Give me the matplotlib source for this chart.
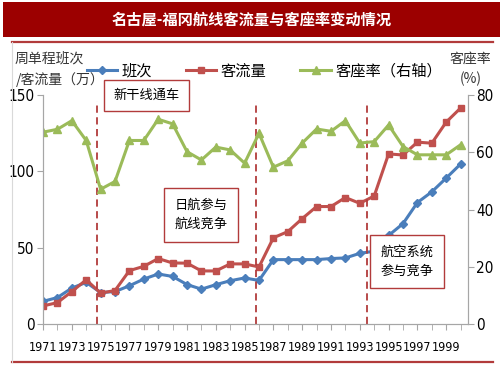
import matplotlib
matplotlib.use("Agg")
import matplotlib.pyplot as plt
from matplotlib import font_manager
from matplotlib.patches import Rectangle
from matplotlib.lines import Line2D

plt.rcParams['font.family'] = ['Noto Sans CJK SC', 'DejaVu Sans']

# data
years = list(range(1971, 2001))
flights = [15, 17.5, 23.7, 27.4, 20.8, 21.4, 25.2, 29.6, 32.9, 31.3,
           26, 23, 25.9, 28.5, 30.3, 28.7, 42.3, 42.3, 42.3, 42.3,
           43, 43.4, 46.4, 47.8, 58.1, 65.8, 79.6, 86.6, 95.6, 104.8]
passengers = [12, 14.2, 21.4, 29.1, 20.4, 22.1, 35.1, 37.9, 43, 40.1,
              40, 34.9, 34.9, 39.5, 39.5, 37.5, 56.6, 60.6, 69.1, 77,
              77, 82.9, 79.1, 83.9, 111.4, 110.7, 119.1, 118.4, 132.2, 141.4]
load_factor = [67, 68, 71, 64.1, 47.1, 49.8, 64.1, 64.1, 71.5, 69.9,
               60.2, 57.3, 61.8, 60.8, 56.2, 66.6, 54.8, 57, 63.2, 68.1,
               67.3, 71, 63.2, 63.7, 69.5, 62, 59.1, 59.1, 59.1, 62.6]
event_years = [1974.78, 1985.77, 1993.53]
event_labels = ['新干线通车', '日航参与\n航线竞争', '航空系统\n参与竞争']
xtick_labels = [str(y) for y in range(1971, 2000, 2)]

blue = '#4a7ebb'
red = '#c0504d'
green = '#9bbb59'
dark_red = '#b23b3b'

# narrow font for the numbers, if one is installed
names = {f.name for f in font_manager.fontManager.ttflist}
condensed = any(f.name == 'DejaVu Sans' and f.stretch in ('condensed', 600)
                for f in font_manager.fontManager.ttflist)
if 'Liberation Sans Narrow' in names:
    num_kw = dict(family='Liberation Sans Narrow')
    x_size = 10.5
elif condensed:
    num_kw = dict(family='DejaVu Sans', stretch='condensed')
    x_size = 9
else:
    num_kw = dict(family='Liberation Sans')
    x_size = 8.8
y_size = 11

fig = plt.figure(figsize=(5.03, 3.78), dpi=100)
fig.patch.set_facecolor('white')

# title banner
fig.patches.append(Rectangle((0.006, 0.902), 0.988, 0.093, transform=fig.transFigure,
                             facecolor='#9c0000', edgecolor='none'))
fig.text(0.5, 0.948, '名古屋-福冈航线客流量与客座率变动情况', color='white',
         fontsize=11, fontweight='bold', ha='center', va='center')
fig.add_artist(Line2D([0.024, 0.98], [0.889, 0.889], transform=fig.transFigure,
                      color=dark_red, lw=1.6))
fig.add_artist(Line2D([0.024, 0.98], [0.043, 0.043], transform=fig.transFigure,
                      color=dark_red, lw=1.6))
fig.add_artist(Line2D([0.024, 0.024], [0.043, 0.889], transform=fig.transFigure,
                      color='#d9d9d9', lw=0.8))

ax = fig.add_axes([0.0855, 0.142, 0.8445, 0.607])
ax2 = ax.twinx()

l1, = ax.plot(years, flights, color=blue, lw=2.2, marker='D', ms=4, label='班次')
l2, = ax.plot(years, passengers, color=red, lw=2.2, marker='s', ms=5, label='客流量')
l3, = ax2.plot(years, load_factor, color=green, lw=2.2, marker='^', ms=6, label='客座率（右轴）')

ax.set_xlim(1971, 2000.5)
ax.set_ylim(0, 150)
ax2.set_ylim(0, 80)
ax.set_yticks([0, 50, 100, 150])
ax2.set_yticks([0, 20, 40, 60, 80])
ax.set_xticks(range(1971, 2000, 2))
ax.set_xticklabels(xtick_labels)
ax.set_xticks(years, minor=True)

for a in (ax, ax2):
    for s in a.spines.values():
        s.set_color('#a6a6a6')
    a.spines['top'].set_visible(False)
    a.tick_params(which='both', color='#a6a6a6', length=4, labelsize=y_size)
    for lab in a.get_yticklabels():
        lab.set(**num_kw)
ax.tick_params(axis='x', pad=8, labelsize=x_size)
for lab in ax.get_xticklabels():
    lab.set(**num_kw)
ax.tick_params(axis='y', pad=2)
ax2.tick_params(axis='y', pad=2)

# dashed event lines
for ey in event_years:
    ax.plot([ey, ey], [0, 146], color=dark_red, lw=1.3, ls=(0, (4, 2.5)))

# annotation boxes
box = dict(boxstyle='square,pad=0.8', facecolor='white', edgecolor=dark_red, lw=1)
ax.text(1978.2, 149.5, event_labels[0], fontsize=9.5, ha='center', va='center',
        bbox=dict(boxstyle='square,pad=0.7', facecolor='white', edgecolor=dark_red, lw=1),
        clip_on=False, zorder=5)
ax.text(1982.0, 71.5, event_labels[1], fontsize=9.5, ha='center', va='center',
        linespacing=1.6, bbox=box, zorder=5)
ax.text(1996.3, 41, event_labels[2], fontsize=9.5, ha='center', va='center',
        linespacing=1.6, bbox=box, zorder=5)

# axis titles
fig.text(0.028, 0.845, '周单程班次', fontsize=10, ha='left', va='center', color='#333333')
fig.text(0.032, 0.79, '/客流量（万）', fontsize=10, ha='left', va='center', color='#333333')
fig.text(0.935, 0.845, '客座率', fontsize=10, ha='center', va='center', color='#333333')
fig.text(0.935, 0.79, '(%)', fontsize=10, ha='center', va='center', color='#333333')

fig.legend(handles=[l1, l2, l3], loc='center left', bbox_to_anchor=(0.16, 0.812),
           ncol=3, frameon=False, fontsize=11, handlelength=2.0, handletextpad=0.3,
           columnspacing=2.2, borderaxespad=0)

fig.savefig('out.png', dpi=100)
